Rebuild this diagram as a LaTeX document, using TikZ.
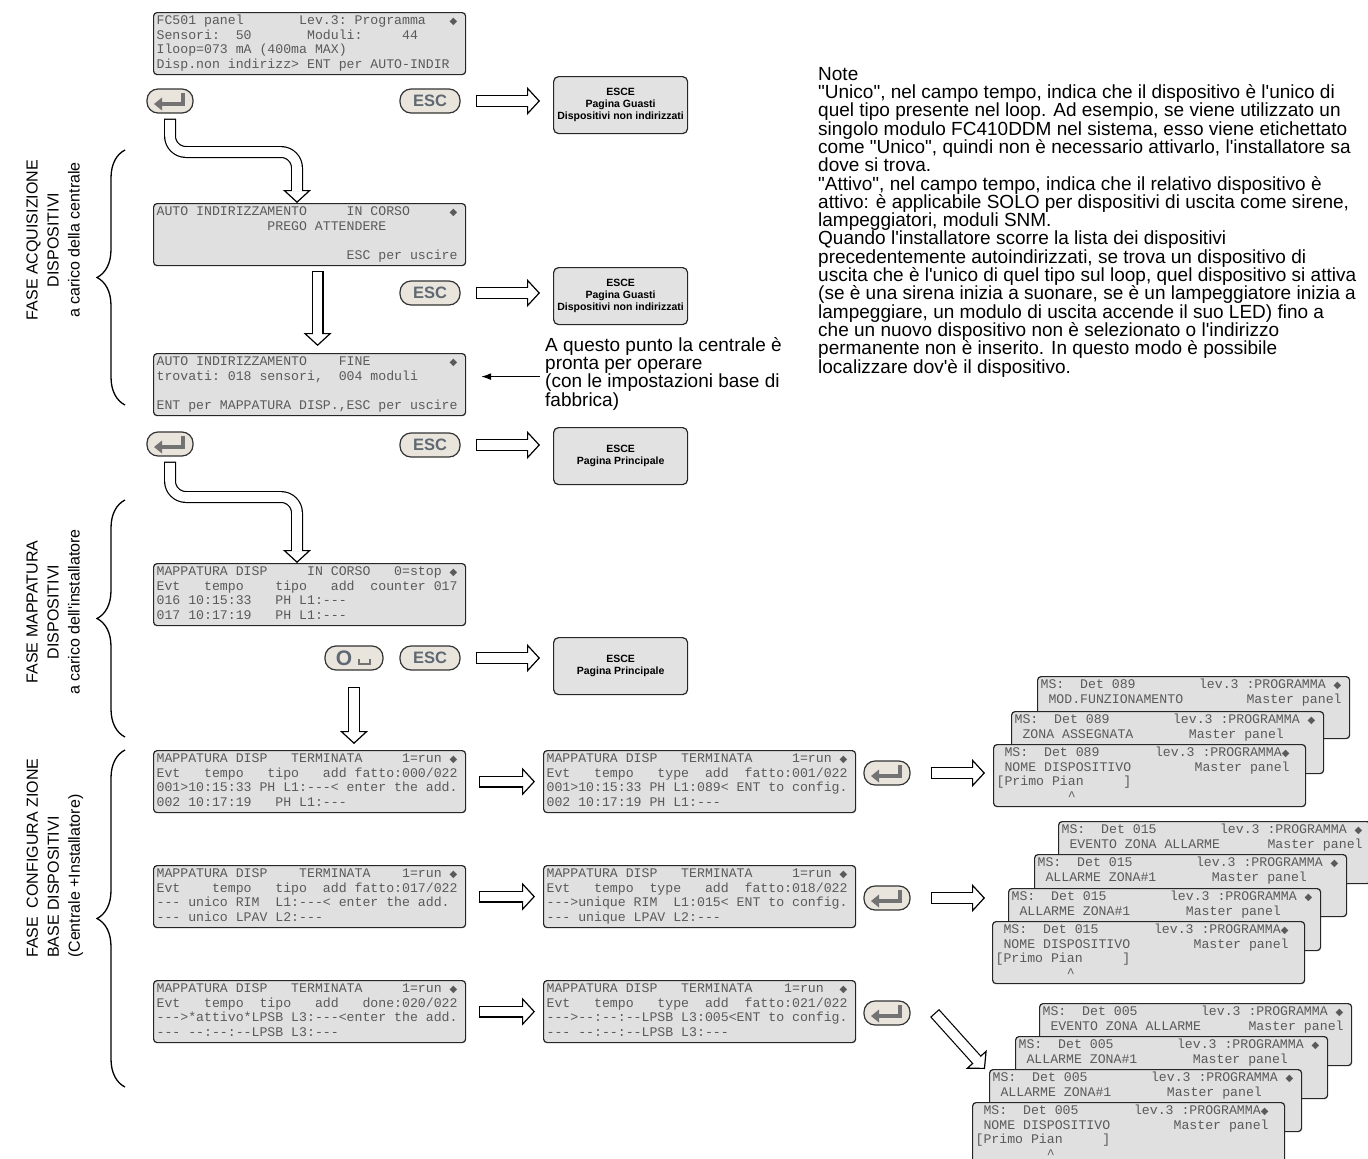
\documentclass[tikz,border=0pt]{standalone}
\usepackage{fontspec}
\setmonofont{Liberation Mono}
\newfontfamily\arialfont{Liberation Sans}
\newfontfamily\symfont{DejaVu Sans}
\usetikzlibrary{arrows.meta,positioning,calc,decorations.pathreplacing}

\definecolor{lcdfill}{RGB}{224,224,224}
\definecolor{lcdtext}{RGB}{90,90,90}
\definecolor{keyfill}{RGB}{233,229,221}
\definecolor{keytext}{RGB}{95,105,115}
\definecolor{exitfill}{RGB}{226,226,226}

% four display rows, one space = one character cell
\newcommand{\lcdrows}[4]{\spaceskip=7.92pt\relax\xspaceskip=7.92pt\relax
  \strut#1\\\strut#2\\\strut#3\\\strut#4}
\newcommand{\bell}{{\symfont\fontsize{10}{10}\selectfont ◆}}

\begin{document}
\begin{tikzpicture}[x=1pt, y=-1pt,
  lcd/.style={draw=black!85, line width=1.2pt, fill=lcdfill, rounded corners=3.5pt, anchor=north west,
    minimum width=312, minimum height=62, text width=306, inner xsep=3pt, inner ysep=0pt, align=left,
    text=lcdtext, font=\ttfamily\fontsize{13.2}{14.5}\selectfont},
  btn/.style={draw=black!80, line width=1.2pt, fill=keyfill, rounded corners=11pt, minimum height=24,
    minimum width=60, inner sep=0pt, text=keytext, font=\arialfont\bfseries\fontsize{16.5}{16.5}\selectfont},
  enterbtn/.style={btn, minimum width=46},
  exitbox/.style={draw=black!85, line width=1.2pt, fill=exitfill, rounded corners=5pt, anchor=north west,
    minimum width=134, minimum height=57, align=center, inner sep=2pt, font=\arialfont\bfseries\fontsize{10.5}{12}\selectfont},
  hollow/.style={line width=12pt, -{Triangle[length=13pt, width=28pt, line width=1.2pt, fill=white]},
    postaction={draw=white, line width=9.6pt, arrows=-, shorten >=11.5pt, shorten <=1.2pt}},
  btnglyph/.style={draw=black!55, line width=3.5pt, -{Triangle[length=8pt, width=13pt, line width=0pt]}},
  thinarr/.style={-{Latex[length=10pt, width=7pt]}, line width=1.2pt},
  phasebrace/.style={decorate, decoration={brace, amplitude=28pt, aspect=0.5}, line width=1.3pt},
  phase/.style={rotate=90, align=center, inner sep=0pt, font=\arialfont\fontsize{16}{21}\selectfont},
  txt/.style={align=left, inner sep=0pt, anchor=north west, font=\arialfont\fontsize{19}{18.3}\selectfont}
]
\useasboundingbox (0,0) rectangle (1368,1159);

% --- acquisizione
\node[lcd] (lcdA) at (153,12) {\lcdrows{FC501 panel~~~~~~~Lev.3: Programma~~~\bell}{Sensori:~~50~~~~~~~Moduli:~~~~~44}{Iloop=073 mA (400ma MAX)}{Disp.non indirizz> ENT per AUTO-INDIR}};
\node[enterbtn] (ent1) at (170,101) {};
\draw[btnglyph] ([xshift=13,yshift=8]ent1.center) |- ([xshift=-16,yshift=-3]ent1.center);
\node[btn] (esc1) at (430,101) {ESC};
\node[exitbox] (exit1) at (553,76) {ESCE\\Pagina Guasti\\Dispositivi non indirizzati};
\draw[hollow] ([xshift=15]esc1.east) -- ([xshift=-13]esc1.east -| exit1.west);

\node[lcd] (lcdB) at (153,203) {\lcdrows{AUTO INDIRIZZAMENTO~~~~~IN CORSO~~~~~\bell}{~~~~~~~~~~~~~~PREGO ATTENDERE}{}{~~~~~~~~~~~~~~~~~~~~~~~~ESC per uscire}};
\coordinate (bendA) at (297,152);
\draw[hollow, rounded corners=16pt] ([yshift=-5]ent1.south) |- (bendA) -- (bendA |- lcdB.north);
\node[btn] (esc2) at (430,293) {ESC};
\node[exitbox] (exit2) at (553,267) {ESCE\\Pagina Guasti\\Dispositivi non indirizzati};
\draw[hollow] ([xshift=15]esc2.east) -- ([xshift=-13]esc2.east -| exit2.west);

\node[lcd] (lcdC) at (153,353) {\lcdrows{AUTO INDIRIZZAMENTO~~~~FINE~~~~~~~~~~\bell}{trovati: 018 sensori,~~004 moduli}{}{ENT per MAPPATURA DISP.,ESC per uscire}};
\draw[hollow] ([xshift=8,yshift=-5]lcdB.south) -- ([xshift=8,yshift=7]lcdC.north);
\node[txt] (ready) at (545,337) {A questo punto la centrale è\\pronta per operare\\(con le impostazioni base di\\fabbrica)};
\draw[thinarr] ([xshift=-5,yshift=-3]ready.west) -- ([xshift=15,yshift=-3]ready.west -| lcdC.east);

\node[enterbtn] (ent2) at (170,444) {};
\draw[btnglyph] ([xshift=13,yshift=8]ent2.center) |- ([xshift=-16,yshift=-3]ent2.center);
\node[btn] (esc3) at (430,445) {ESC};
\node[exitbox] (exit3) at (553,427) {ESCE\\Pagina Principale};
\draw[hollow] ([xshift=15]esc3.east) -- ([xshift=-13]esc3.east -| exit3.west);

% --- mappatura
\node[lcd] (lcdD) at (153,563) {\lcdrows{MAPPATURA DISP~~~~~IN CORSO~~~0=stop~\bell}{Evt~~~tempo~~~~tipo~~~add~~counter 017}{016 10:15:33~~~PH L1:---}{017 10:17:19~~~PH L1:---}};
\coordinate (bendB) at (297,497);
\draw[hollow, rounded corners=16pt] ([yshift=-5]ent2.south) |- (bendB) -- (bendB |- lcdD.north);
\node[btn, minimum width=58, font=\arialfont\bfseries\fontsize{21}{21}\selectfont] (btnO) at (354,658) {O\rule{20pt}{0pt}};
\draw[line width=1.6pt, draw=black!55] ([xshift=5,yshift=-1]btnO.center) |- ([xshift=16,yshift=-6]btnO.center) -- ([xshift=16,yshift=-1]btnO.center);
\node[btn] (esc4) at (430,658) {ESC};
\node[exitbox] (exit4) at (553,637) {ESCE\\Pagina Principale};
\draw[hollow] ([xshift=15]esc4.east) -- ([xshift=-13]esc4.east -| exit4.west);

% --- configurazione
\node[lcd] (lcdE) at (153,750) {\lcdrows{MAPPATURA DISP~~~TERMINATA~~~~~1=run~\bell}{Evt~~~tempo~~~tipo~~~add fatto:000/022}{001>10:15:33 PH L1:---< enter the add.}{002 10:17:19~~~PH L1:---}};
\draw[hollow] ([yshift=-16]btnO.south) -- ([yshift=6]btnO.south |- lcdE.north);
\node[lcd] (lcdF) at (543,750) {\lcdrows{MAPPATURA DISP~~~TERMINATA~~~~~1=run~\bell}{Evt~~~tempo~~~type~~add~~fatto:001/022}{001>10:15:33 PH L1:089< ENT to config.}{002 10:17:19 PH L1:---}};
\draw[hollow] ([xshift=13]lcdE.east) -- ([xshift=-8]lcdF.west);
\node[enterbtn] (ent3) at (887,773) {};
\draw[btnglyph] ([xshift=13,yshift=8]ent3.center) |- ([xshift=-16,yshift=-3]ent3.center);
\node[lcd] (cfgAa) at (1037,676) {\lcdrows{MS:~~Det 089~~~~~~~~lev.3 :PROGRAMMA~\bell}{~MOD.FUNZIONAMENTO~~~~~~~~Master panel}{}{}};
\node[lcd] (cfgAb) at (1011,711) {\lcdrows{MS:~~Det 089~~~~~~~~lev.3 :PROGRAMMA~\bell}{~ZONA ASSEGNATA~~~~~~~Master panel}{}{}};
\node[lcd] (cfgAc) at (993,744) {\lcdrows{~MS:~~Det 089~~~~~~~lev.3 :PROGRAMMA\bell}{~NOME DISPOSITIVO~~~~~~~~Master panel}{[Primo Pian~~~~~]}{~~~~~~~~~\textasciicircum}};
\draw[hollow] ([xshift=20]ent3.east) -- ([xshift=-8]ent3.east -| cfgAc.west);

\node[lcd] (lcdG) at (153,865) {\lcdrows{MAPPATURA DISP~~~~TERMINATA~~~~1=run~\bell}{Evt~~~~tempo~~~tipo~~add fatto:017/022}{--- unico RIM~~L1:---< enter the add.}{--- unico LPAV L2:---}};
\node[lcd] (lcdH) at (543,865) {\lcdrows{MAPPATURA DISP~~~TERMINATA~~~~~1=run~\bell}{Evt~~~tempo~~type~~~add~~fatto:018/022}{--->unique RIM~~L1:015< ENT to config.}{--- unique LPAV L2:---}};
\draw[hollow] ([xshift=13]lcdG.east) -- ([xshift=-8]lcdH.west);
\node[enterbtn] (ent4) at (887,898) {};
\draw[btnglyph] ([xshift=13,yshift=8]ent4.center) |- ([xshift=-16,yshift=-3]ent4.center);
\node[lcd] (cfgBa) at (1058,821) {\lcdrows{MS:~~Det 015~~~~~~~~lev.3 :PROGRAMMA~\bell}{~EVENTO ZONA ALLARME~~~~~~Master panel}{}{}};
\node[lcd] (cfgBb) at (1034,854) {\lcdrows{MS:~~Det 015~~~~~~~~lev.3 :PROGRAMMA~\bell}{~ALLARME ZONA\#1~~~~~~~Master panel}{}{}};
\node[lcd] (cfgBc) at (1008,888) {\lcdrows{MS:~~Det 015~~~~~~~~lev.3 :PROGRAMMA~\bell}{~ALLARME ZONA\#1~~~~~~~Master panel}{}{}};
\node[lcd] (cfgBd) at (992,921) {\lcdrows{~MS:~~Det 015~~~~~~~lev.3 :PROGRAMMA\bell}{~NOME DISPOSITIVO~~~~~~~~Master panel}{[Primo Pian~~~~~]}{~~~~~~~~~\textasciicircum}};
\draw[hollow] ([xshift=20]ent4.east) -- ([xshift=-7]ent4.east -| cfgBd.west);

\node[lcd] (lcdI) at (153,980) {\lcdrows{MAPPATURA DISP~~~TERMINATA~~~~~1=run~\bell}{Evt~~~tempo~~tipo~~~add~~~done:020/022}{--->*attivo*LPSB L3:---<enter the add.}{--- --:--:--LPSB L3:---}};
\node[lcd] (lcdJ) at (543,980) {\lcdrows{MAPPATURA DISP~~~TERMINATA~~~~1=run~~\bell}{Evt~~~tempo~~~type~~add~~fatto:021/022}{--->--:--:--LPSB L3:005<ENT to config.}{--- --:--:--LPSB L3:---}};
\draw[hollow] ([xshift=13]lcdI.east) -- ([xshift=-8]lcdJ.west);
\node[enterbtn] (ent5) at (887,1013) {};
\draw[btnglyph] ([xshift=13,yshift=8]ent5.center) |- ([xshift=-16,yshift=-3]ent5.center);
\node[lcd] (cfgCa) at (1039,1003) {\lcdrows{MS:~~Det 005~~~~~~~~lev.3 :PROGRAMMA~\bell}{~EVENTO ZONA ALLARME~~~~~~Master panel}{}{}};
\node[lcd] (cfgCb) at (1015,1036) {\lcdrows{MS:~~Det 005~~~~~~~~lev.3 :PROGRAMMA~\bell}{~ALLARME ZONA\#1~~~~~~~Master panel}{}{}};
\node[lcd] (cfgCc) at (989,1069) {\lcdrows{MS:~~Det 005~~~~~~~~lev.3 :PROGRAMMA~\bell}{~ALLARME ZONA\#1~~~~~~~Master panel}{}{}};
\node[lcd] (cfgCd) at (972,1102) {\lcdrows{~MS:~~Det 005~~~~~~~lev.3 :PROGRAMMA\bell}{~NOME DISPOSITIVO~~~~~~~~Master panel}{[Primo Pian~~~~~]}{~~~~~~~~~\textasciicircum}};
\draw[hollow] ([xshift=24]ent5.east) -- ([xshift=-4]cfgCc.north west);

% --- fasi
\draw[phasebrace] (125,405) -- (125,150);
\draw[phasebrace] (125,737) -- (125,500);
\draw[phasebrace] (125,1087) -- (125,750);
\node[phase] (phA) at (53,240) {FASE ACQUISIZIONE\\DISPOSITIVI\\a carico della centrale};
\node[phase] (phB) at (53,612) {FASE MAPPATURA\\DISPOSITIVI\\a carico dell'installatore};
\node[phase, align=left, anchor=west] (phC) at (55,958) {FASE~~CONFIGURA ZIONE\\BASE DISPOSITIVI\\(Centrale +Installatore)};

% --- note
\node[txt] (notes) at (818,67) {Note\\
"Unico", nel campo tempo, indica che il dispositivo è l'unico di\\
quel tipo presente nel loop. Ad esempio, se viene utilizzato un\\
singolo modulo FC410DDM nel sistema, esso viene etichettato\\
come "Unico", quindi non è necessario attivarlo, l'installatore sa\\
dove si trova.\\
"Attivo", nel campo tempo, indica che il relativo dispositivo è\\
attivo: è applicabile SOLO per dispositivi di uscita come sirene,\\
lampeggiatori, moduli SNM.\\
Quando l'installatore scorre la lista dei dispositivi\\
precedentemente autoindirizzati, se trova un dispositivo di\\
uscita che è l'unico di quel tipo sul loop, quel dispositivo si attiva\\
(se è una sirena inizia a suonare, se è un lampeggiatore inizia a\\
lampeggiare, un modulo di uscita accende il suo LED) fino a\\
che un nuovo dispositivo non è selezionato o l'indirizzo\\
permanente non è inserito. In questo modo è possibile\\
localizzare dov'è il dispositivo.};
\end{tikzpicture}
\end{document}
